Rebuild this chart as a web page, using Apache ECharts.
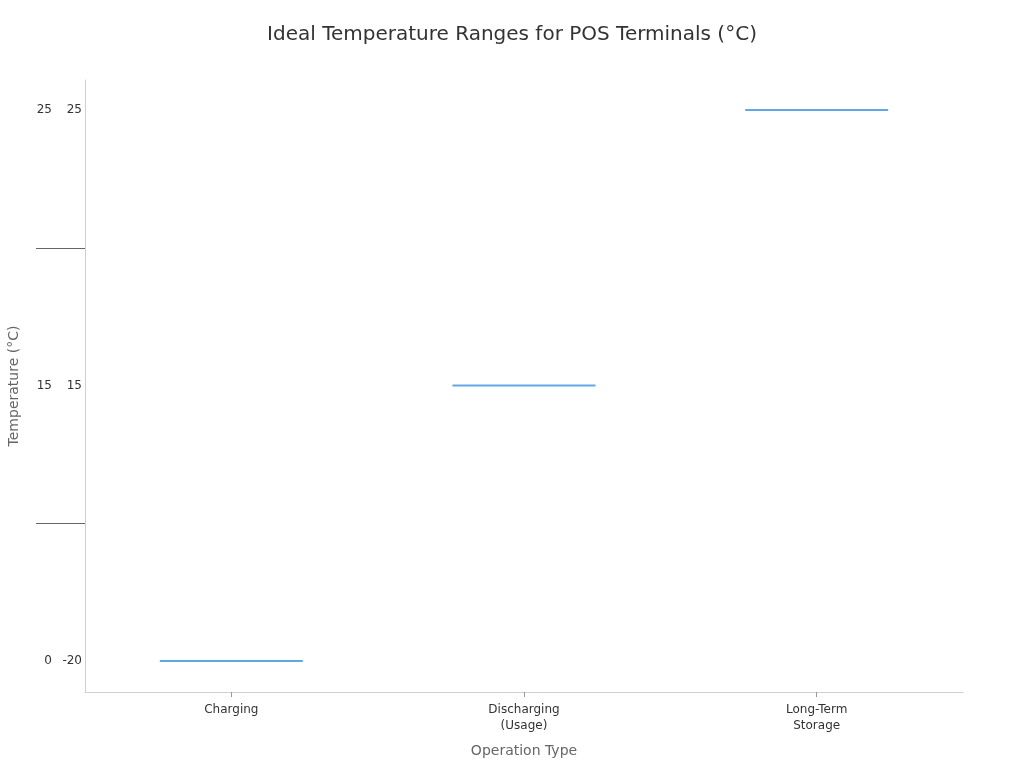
<!DOCTYPE html>
<html>
<head>
<meta charset="utf-8">
<script src="https://cdn.jsdelivr.net/npm/echarts@6/dist/echarts.min.js"></script>
<style>html,body{margin:0;padding:0;background:#fff}#c{width:1024px;height:768px}</style>
</head>
<body>
<div id="c"></div>
<script>
var categories = ['Charging', 'Discharging\n(Usage)', 'Long-Term\nStorage'];
var levelIndex = [0, 1, 2];
var tickLabelsLeft = ['0', '15', '25'];
var tickLabelsRight = ['-20', '15', '25'];
var boundaryTicks = [0.5, 1.5];

var chart = echarts.init(document.getElementById('c'));
var FONT = 'DejaVu Sans';
chart.setOption({
  backgroundColor: '#fff',
  textStyle: { fontFamily: FONT },
  title: {
    text: 'Ideal Temperature Ranges for POS Terminals (°C)',
    left: 'center', top: 20,
    textStyle: { fontFamily: FONT, fontSize: 20, fontWeight: 'normal', color: '#333' }
  },
  grid: { left: 85, right: 61, top: 80, bottom: 76, containLabel: false, outerBoundsMode: 'none' },
  xAxis: {
    type: 'category',
    data: categories,
    name: 'Operation Type',
    nameLocation: 'middle',
    nameGap: 52,
    nameTextStyle: { fontFamily: FONT, fontSize: 14, color: '#666' },
    axisLine: { onZero: false, lineStyle: { color: '#d0d0d0' } },
    axisTick: { show: true, alignWithLabel: true, length: 5, lineStyle: { color: '#999' } },
    axisLabel: { fontFamily: FONT, fontSize: 12, color: '#333', margin: 10, lineHeight: 16 }
  },
  yAxis: {
    type: 'value',
    min: -0.1125,
    max: 2.109,
    name: 'Temperature (°C)',
    nameLocation: 'middle',
    nameGap: 64,
    nameTextStyle: { fontFamily: FONT, fontSize: 14, color: '#666' },
    splitLine: { show: false },
    axisLine: { show: true, lineStyle: { color: '#d0d0d0' } },
    axisTick: { show: true, customValues: boundaryTicks, length: 49, lineStyle: { color: '#666' } },
    axisLabel: {
      customValues: levelIndex,
      margin: 3,
      formatter: function (v) {
        var i = Math.round(v);
        return '{a|' + tickLabelsLeft[i] + '}{b|' + tickLabelsRight[i] + '}';
      },
      rich: {
        a: { fontFamily: FONT, fontSize: 12, color: '#333', width: 20, align: 'right' },
        b: { fontFamily: FONT, fontSize: 12, color: '#333', width: 30, align: 'right' }
      }
    }
  },
  series: [{
    type: 'scatter',
    symbol: 'rect',
    symbolSize: [143, 2],
    itemStyle: { color: '#3a92dc' },
    data: categories.map(function (c, i) { return [c, levelIndex[i]]; }),
    silent: true
  }]
});
</script>
</body>
</html>
